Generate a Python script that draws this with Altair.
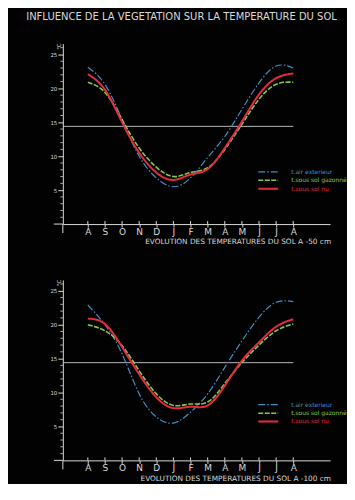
import altair as alt
import pandas as pd

# ---------------- data ----------------
MONTHS = ["A", "S", "O", "N", "D", "J", "F", "M", "A", "M", "J", "J", "A"]
SERIES = ["t.air exterieur", "t.sous sol gazonné", "t.sous sol nu"]
COLORS = ["#3f8fc6", "#86c84e", "#e62a40"]

# depth -50 cm
AIR_50 = [23.1, 20.6, 15.4, 10.0, 6.8, 5.5, 6.8, 9.8, 12.9, 16.9, 20.8, 23.3, 23.0]
GAZON_50 = [20.9, 19.4, 15.4, 11.2, 8.4, 7.0, 7.6, 8.3, 11.0, 14.7, 18.4, 20.6, 20.9]
NU_50 = [22.1, 19.8, 15.0, 10.5, 7.6, 6.5, 7.3, 8.1, 11.2, 15.1, 19.1, 21.5, 22.2]

# depth -100 cm
AIR_100 = [22.9, 20.0, 15.7, 9.8, 6.4, 5.5, 7.1, 9.8, 13.7, 17.6, 21.1, 23.3, 23.4]
GAZON_100 = [20.0, 19.1, 16.9, 13.2, 9.8, 8.1, 8.3, 8.6, 11.3, 14.4, 17.0, 19.1, 20.1]
NU_100 = [20.9, 20.1, 16.7, 12.7, 9.3, 7.7, 7.9, 8.1, 11.0, 14.7, 17.4, 19.7, 20.8]

REF_TEMP = [14.4, 14.4]
Y_MAJOR = [5, 10, 15, 20, 25]
Y_MINOR = [1, 2, 3, 4, 6, 7, 8, 9, 11, 12, 13, 14, 16, 17, 18, 19, 21, 22, 23, 24, 26]

TITLE = "INFLUENCE DE LA VEGETATION SUR LA TEMPERATURE DU SOL"
SUBTITLES = ["EVOLUTION DES TEMPERATURES DU SOL A -50 cm",
             "EVOLUTION DES TEMPERATURES DU SOL A -100 cm"]

# ---------------- layout ----------------
W, H = 268, 181
XDOM = [-1.46, 14.15]
YDOM = [0, 26.6]
FG = "#d9d9d9"
BG = "#020202"
FONT = "DejaVu Sans"

DASHES = [[7, 2, 1.5, 2], [5, 1.5], [1, 0]]
WIDTHS = [1.2, 1.6, 2.0]

label_expr = "[" + ",".join("'%s'" % m for m in MONTHS) + "][datum.value]"

xscale = alt.Scale(domain=XDOM, nice=False, zero=False)
yscale = alt.Scale(domain=YDOM, nice=False, zero=False)

x_axis = alt.Axis(values=list(range(len(MONTHS))), labelExpr=label_expr, title=None,
                  tickSize=3, labelPadding=0, labelFontSize=9, labelFont=FONT,
                  labelColor=FG, tickColor=FG, domainColor=FG, grid=False,
                  labelFlush=False, labelOverlap=False)
y_axis = alt.Axis(values=Y_MAJOR, title=None, tickSize=5, labelPadding=1,
                  labelFontSize=5.5, labelFont=FONT, labelColor=FG, tickColor=FG,
                  domainColor=FG, grid=False)


def panel(series_values, subtitle, legend_y, sub_y, with_title=False):
    layers = []
    for name, vals, col, dash, wd in zip(SERIES, series_values, COLORS, DASHES, WIDTHS):
        df = pd.DataFrame({"m": list(range(len(MONTHS))), "t": vals})
        layers.append(
            alt.Chart(df).mark_line(color=col, strokeDash=dash, strokeWidth=wd,
                                    interpolate="natural").encode(
                x=alt.X("m:Q", scale=xscale, axis=x_axis),
                y=alt.Y("t:Q", scale=yscale, axis=y_axis),
            )
        )
    # reference horizontal line
    href = pd.DataFrame({"x0": [XDOM[0]], "x1": [len(MONTHS) - 1], "y": [REF_TEMP[0]]})
    layers.insert(0, alt.Chart(href).mark_rule(color="#b8b8b8", strokeWidth=1).encode(
        x=alt.X("x0:Q", scale=xscale, axis=x_axis), x2="x1:Q",
        y=alt.Y("y:Q", scale=yscale, axis=y_axis)))
    # minor y ticks
    layers.append(alt.Chart(pd.DataFrame({"v": Y_MINOR})).mark_rule(color=FG, strokeWidth=0.8).encode(
        y=alt.Y("v:Q", scale=yscale, axis=y_axis), x=alt.value(-2.5), x2=alt.value(0)))
    # upper halves of month ticks
    layers.append(alt.Chart(pd.DataFrame({"i": list(range(len(MONTHS)))})).mark_rule(color=FG).encode(
        x=alt.X("i:Q", scale=xscale, axis=x_axis), y=alt.value(H - 3), y2=alt.value(H)))
    one = pd.DataFrame({"k": [0]})
    # axis extensions (cross at origin)
    layers.append(alt.Chart(one).mark_rule(color=FG).encode(
        x=alt.value(0), y=alt.value(H), y2=alt.value(H + 9)))
    layers.append(alt.Chart(one).mark_rule(color=FG).encode(
        x=alt.value(-9), x2=alt.value(0), y=alt.value(H)))
    # unit label
    layers.append(alt.Chart(pd.DataFrame({"u": ["°C"]})).mark_text(
        color=FG, fontSize=5.5, font=FONT, angle=270, align="center", baseline="middle").encode(
        text="u:N", x=alt.value(-4), y=alt.value(3)))
    # legend
    for i, (name, col, dash, wd) in enumerate(zip(SERIES, COLORS, DASHES, WIDTHS)):
        layers.append(alt.Chart(one).mark_rule(color=col, strokeDash=dash, strokeWidth=wd).encode(
            x=alt.value(196), x2=alt.value(216), y=alt.value(legend_y[i])))
        layers.append(alt.Chart(pd.DataFrame({"n": [name]})).mark_text(
            color=col, fontSize=6, font=FONT, align="left", baseline="middle").encode(
            text="n:N", x=alt.value(229), y=alt.value(legend_y[i])))
    # subtitle
    layers.append(alt.Chart(pd.DataFrame({"s": [subtitle]})).mark_text(
        color=FG, fontSize=7.4, font=FONT, align="right", baseline="middle").encode(
        text="s:N", x=alt.value(W + 1), y=alt.value(sub_y)))
    if with_title:
        layers.append(alt.Chart(pd.DataFrame({"s": [TITLE]})).mark_text(
            color=FG, fontSize=10, font=FONT, align="center", baseline="middle").encode(
            text="s:N", x=alt.value(119), y=alt.value(-27)))
        # invisible anchor fixing the page origin of the chart
        layers.append(alt.Chart(one).mark_point(opacity=0, size=1).encode(
            x=alt.value(-54), y=alt.value(-34)))
    return alt.layer(*layers).properties(width=W, height=H)


top = panel([AIR_50, GAZON_50, NU_50], SUBTITLES[0], [128.7, 137.0, 145.7], H + 18, with_title=True)
bottom = panel([AIR_100, GAZON_100, NU_100], SUBTITLES[1], [125.0, 133.7, 142.0], H + 19)

chart = alt.vconcat(top, bottom, spacing=56, bounds="flush").properties(
    padding=0, background=BG
).configure_view(stroke=None)

chart.save("out.html", embed_options={"renderer": "svg", "actions": False})
